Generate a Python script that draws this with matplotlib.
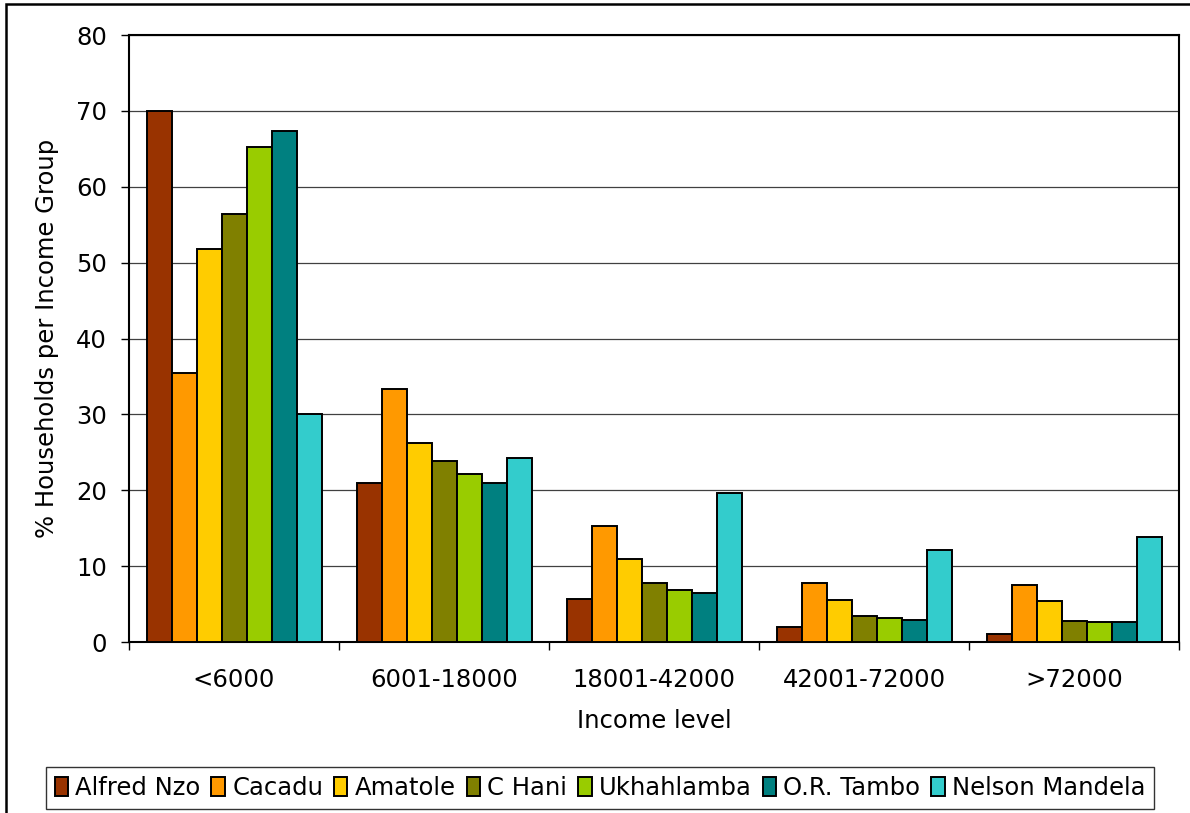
import numpy as np
import matplotlib
matplotlib.use("Agg")
import matplotlib.pyplot as plt
from matplotlib.patches import Rectangle

plt.rcParams['font.family'] = ['DejaVu Sans']

# household income shares per district
income_levels = ['<6000', '6001-18000', '18001-42000', '42001-72000', '>72000']
districts = ['Alfred Nzo', 'Cacadu', 'Amatole', 'C Hani', 'Ukhahlamba',
             'O.R. Tambo', 'Nelson Mandela']
alfred_nzo = [70.0, 21.0, 5.7, 2.0, 1.1]
cacadu = [35.5, 33.4, 15.3, 7.8, 7.5]
amatole = [51.8, 26.2, 11.0, 5.5, 5.4]
c_hani = [56.4, 23.9, 7.8, 3.4, 2.8]
ukhahlamba = [65.3, 22.1, 6.9, 3.1, 2.6]
or_tambo = [67.4, 21.0, 6.4, 2.9, 2.6]
nelson_mandela = [30.0, 24.2, 19.7, 12.1, 13.9]
series = [alfred_nzo, cacadu, amatole, c_hani, ukhahlamba, or_tambo, nelson_mandela]

colors = ['#993300', '#FF9900', '#FFCC00', '#808000', '#99CC00', '#008080', '#33CCCC']
fs = 17.5

fig = plt.figure(figsize=(11.9, 8.13), dpi=100)
ax = fig.add_axes([129/1190, 1-642/813, 1050/1190, 607/813])

x = np.arange(len(income_levels))
w = 1/8.4
for j, (vals, c, name) in enumerate(zip(series, colors, districts)):
    ax.bar(x + (j-3)*w, vals, w, color=c, edgecolor='black', linewidth=1.4,
           label=name, zorder=3)

ax.set_xlim(-0.5, 4.5)
ax.set_ylim(0, 80)
ax.set_yticks(np.arange(0, 81, 10))
ax.yaxis.grid(True, color='#404040', linewidth=0.9, zorder=0)

ax.set_xticks(x)
ax.set_xticklabels(income_levels)
ax.set_xticks(np.arange(-0.5, 5, 1), minor=True)
ax.tick_params(axis='x', which='major', length=0, pad=19, labelsize=fs)
ax.tick_params(axis='x', which='minor', length=6, width=1, direction='out')
ax.tick_params(axis='y', length=6, width=1, direction='out', pad=10, labelsize=fs)

for s in ax.spines.values():
    s.set_linewidth(1.5)
    s.set_color('black')

ax.set_xlabel('Income level', fontsize=fs, labelpad=12)
ax.set_ylabel('% Households per Income Group', fontsize=fs, labelpad=12)

leg = ax.legend(ncol=7, loc='center', bbox_to_anchor=(600/1190, 1-788/813),
                bbox_transform=fig.transFigure, fontsize=fs, frameon=True,
                fancybox=False, edgecolor='black', handlelength=0.55,
                handleheight=0.85, handletextpad=0.3, columnspacing=0.45,
                borderpad=0.35, borderaxespad=0)
leg.get_frame().set_linewidth(1.0)

# chart border
fig.add_artist(Rectangle((6/1190, -0.1), 1.2, 1.1 - 4/813,
                         transform=fig.transFigure, fill=False,
                         edgecolor='black', linewidth=1.8))

fig.savefig('out.png', dpi=100)
